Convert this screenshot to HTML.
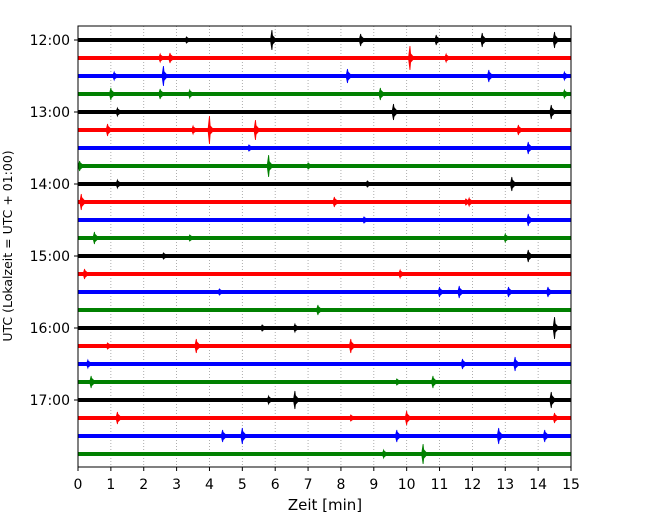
<!DOCTYPE html>
<html><head><meta charset="utf-8"><style>
html,body{margin:0;padding:0;background:#fff;}
svg text{font-family:"DejaVu Sans","Liberation Sans",sans-serif;}
</style></head><body>
<svg id="chart" width="650" height="520" viewBox="0 0 650 520">
<g id="grid"></g>
<g id="traces"></g>
<rect x="78" y="26" width="493" height="441" fill="none" stroke="#000" stroke-width="1"/>
<g id="xaxis"></g>
<g id="yaxis"></g>
<text x="325" y="510" font-size="15" text-anchor="middle">Zeit  [min]</text>
<text transform="translate(12,246) rotate(-90)" font-size="12.5" text-anchor="middle">UTC (Lokalzeit = UTC + 01:00)</text>
</svg>
<script>
const xTicks=[0,1,2,3,4,5,6,7,8,9,10,11,12,13,14,15];
const yTickLabels=["12:00","13:00","14:00","15:00","16:00","17:00"];
const yTickRows=[0,4,8,12,16,20];
const colors=["#000000","#ff0000","#0000ff","#008000"];
const rowCount=24;
// events per row: [time in minutes, amplitude]
const events=[
[[5.9,10],[8.6,6],[10.9,5],[12.3,7],[14.5,8],[3.3,3]],
[[2.8,5],[10.1,12],[11.2,4],[2.5,4]],
[[2.6,10],[8.2,7],[12.5,6],[1.1,4],[14.8,4]],
[[1.0,6],[2.5,5],[9.2,6],[3.4,4],[14.8,4]],
[[1.2,4],[9.6,8],[14.4,7]],
[[0.9,6],[3.5,4],[4.0,14],[5.4,10],[13.4,5]],
[[13.7,6],[5.2,3]],
[[5.8,11],[0.05,5],[7.0,3]],
[[13.2,7],[1.2,4],[8.8,3]],
[[0.1,8],[7.8,5],[11.9,4],[11.8,3]],
[[13.7,6],[8.7,3]],
[[0.5,6],[13.0,4],[3.4,3]],
[[13.7,6],[2.6,3]],
[[0.2,5],[9.8,4]],
[[11.6,6],[11.0,5],[13.1,5],[14.3,5],[4.3,3]],
[[7.3,5]],
[[14.5,11],[6.6,4],[5.6,3]],
[[3.6,7],[8.3,7],[0.9,3]],
[[13.3,7],[11.7,5],[0.3,4]],
[[10.8,6],[0.4,6],[9.7,3]],
[[6.6,9],[14.4,8],[5.8,4]],
[[1.2,6],[10.0,7],[14.5,5],[8.3,3]],
[[5.0,8],[4.4,6],[12.8,8],[14.2,6],[9.7,6]],
[[10.5,10],[9.3,4]]
];
const NS="http://www.w3.org/2000/svg";
const X0=78,X1=571,Y0=26,Y1=467;
function xs(t){return X0+t*(X1-X0)/15;}
function ys(r){return 40+r*18;}
function mk(tag,attrs,parent){const e=document.createElementNS(NS,tag);for(const k in attrs)e.setAttribute(k,attrs[k]);parent.appendChild(e);return e;}
const grid=document.getElementById('grid'),tr=document.getElementById('traces'),xa=document.getElementById('xaxis'),ya=document.getElementById('yaxis');
xTicks.forEach(t=>{
  if(t>0&&t<15){const g=mk('line',{x1:xs(t),x2:xs(t),y1:Y0,y2:Y1,stroke:'#999','stroke-width':0.8,'stroke-dasharray':'1,2'},grid);
  
  }
  const tk=mk('line',{x1:xs(t),x2:xs(t),y1:Y1,y2:Y1+4,stroke:'#000'},xa);
  
  
  const lb=mk('text',{x:xs(t),y:Y1+22,'font-size':14,'text-anchor':'middle'},xa);
  lb.textContent=t;
  
  
});
yTickRows.forEach((r,i)=>{
  const tk=mk('line',{x1:X0-4,x2:X0,y1:ys(r),y2:ys(r),stroke:'#000'},ya);
  
  
  const lb=mk('text',{x:X0-8,y:ys(r)+5,'font-size':14,'text-anchor':'end'},ya);
  lb.textContent=yTickLabels[i];
  
  
});
for(let r=0;r<rowCount;r++){
  const c=colors[r%4];
  const g=mk('g',{},tr);
  
  
  mk('rect',{x:X0,y:ys(r)-2,width:X1-X0,height:4,fill:c},g);
  (events[r]||[]).forEach(([t,a])=>{
    const x=xs(t), y=ys(r);
    const s=mk('polygon',{points:`${x-1.5},${y} ${x},${y-a} ${x+1},${y} ${x},${y+a}`,fill:c,stroke:c,'stroke-width':0.8},g);
    
    
    const h=Math.min(a,8)*0.45+2;
    mk('polygon',{points:`${x-2},${y} ${x},${y-h} ${x+5},${y} ${x},${y+h}`,fill:c},g);
  });
}
</script>
</body></html>
